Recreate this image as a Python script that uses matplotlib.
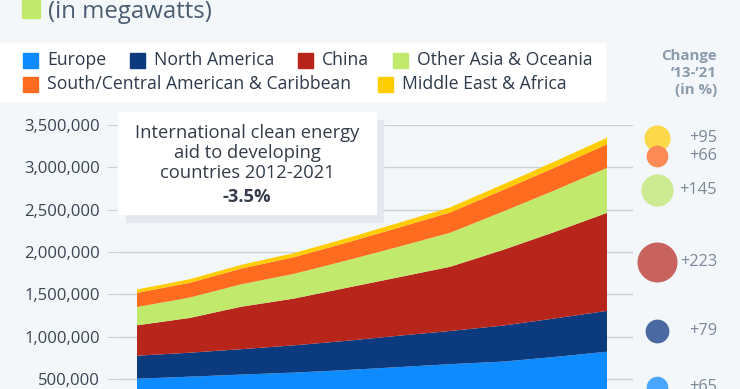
import numpy as np
import matplotlib.pyplot as plt
from matplotlib.patches import Rectangle
from matplotlib.ticker import FuncFormatter

plt.rcParams['font.family'] = ['Open Sans', 'DejaVu Sans']

# installed renewable capacity, MW
years = list(range(2013, 2023))
europe = [503000, 527000, 552000, 575000, 605000, 640000, 675000, 705000, 760000, 822000]
north_america = [272000, 283000, 300000, 322000, 345000, 370000, 392000, 425000, 455000, 482000]
china = [359000, 410000, 502000, 552000, 625000, 690000, 759000, 893000, 1022000, 1158000]
other_asia = [216000, 240000, 265000, 292000, 322000, 360000, 402000, 452000, 492000, 531000]
south_america = [167000, 175000, 185000, 197000, 210000, 226000, 240000, 255000, 268000, 278000]
mea = [40000, 42000, 45000, 48000, 52000, 56000, 60000, 66000, 72000, 78000]

labels = ['Europe', 'North America', 'China', 'Other Asia & Oceania',
          'South/Central American & Caribbean', 'Middle East & Africa']
change_pct = [65, 79, 223, 145, 66, 95]
yticks = [500000, 1000000, 1500000, 2000000, 2500000, 3000000, 3500000]

colors = ['#0e8cff', '#0b3a7e', '#b8261b', '#c1e96c', '#ff6b1f', '#ffcd00']
bubble_colors = ['#4aa6ff', '#4a69a2', '#c8625c', '#cdeb93', '#fc8b56', '#fdd94a']

W, H = 740, 389
BG = '#f4f7fa'
fig = plt.figure(figsize=(W / 100, H / 100), dpi=100, facecolor=BG)


def fx(px):
    return px / W


def fy(py):
    return 1 - py / H


# title remnant
fig.patches.append(Rectangle((fx(22), fy(18)), fx(18), 18 / H, transform=fig.transFigure,
                             color='#c1e96c', zorder=0))
fig.text(fx(48), fy(12), '(in megawatts)', fontsize=17.3, color='#4b5b70', va='center', ha='left')

# legend band
fig.patches.append(Rectangle((0, fy(101)), fx(605), 58 / H, transform=fig.transFigure,
                             color='white', zorder=0))
leg_pos = [(23, 60), (130, 60), (298, 60), (393, 60), (23, 84), (378, 84)]
for (lx, ly), lab, c in zip(leg_pos, labels, colors):
    fig.patches.append(Rectangle((fx(lx), fy(ly + 8)), fx(15), 15 / H, transform=fig.transFigure,
                                 color=c, zorder=1))
    fig.text(fx(lx + 24), fy(ly), lab, fontsize=12.7, color='#2e3a4a', va='center', ha='left')

fig.text(fx(717), fy(73), 'Change\n\u201913-\u201921\n(in %)', fontsize=10.8, fontweight='bold',
         color='#8c9bab', ha='right', va='center', linespacing=1.3)

# main axes; bottom is cropped off like the reference
y0_px, ytop_px = 421.3, 125
ax = fig.add_axes([fx(118), fy(y0_px), fx(633 - 118), (y0_px - ytop_px) / H])
ax.set_facecolor(BG)
ax.stackplot(years, europe, north_america, china, other_asia, south_america, mea,
             colors=colors, linewidth=0, zorder=2)
ax.set_xlim(2013 - 19 / 52.2, 2022 + 26 / 52.2)
ax.set_ylim(0, 3500000)
ax.set_yticks(yticks)
ax.yaxis.set_major_formatter(FuncFormatter(lambda v, p: f'{v:,.0f}'))
ax.grid(axis='y', color='#cbd3da', linewidth=1, zorder=1)
ax.set_axisbelow(True)
ax.tick_params(axis='y', length=8, color='#cbd3da', labelsize=12, labelcolor='#3a4552', pad=5)
ax.tick_params(axis='x', bottom=False, labelbottom=False)
for s in ax.spines.values():
    s.set_visible(False)

# bubbles at the middle of each layer in the last year
series = [europe, north_america, china, other_asia, south_america, mea]
last = np.array([s[-1] for s in series])
tops = np.cumsum(last)
mids = tops - last / 2
mids[-1] += 35000
bx = 2022 + 50 / 52.2
for i in reversed(range(len(series))):
    r_px = 20 * np.sqrt(change_pct[i] / 223)
    ax.scatter([bx], [mids[i]], s=(2 * r_px * 0.72) ** 2, color=bubble_colors[i],
               linewidths=0, clip_on=False, zorder=5)
    ax.annotate(f'+{change_pct[i]}', (bx, mids[i]), xytext=(60, 0), textcoords='offset pixels',
                fontsize=11.8, color='#7b8897', ha='right', va='center', annotation_clip=False)

# annotation box
fig.patches.append(Rectangle((fx(126), fy(222)), fx(257), 102 / H, transform=fig.transFigure,
                             color='#e2e8ee', zorder=3))
fig.patches.append(Rectangle((fx(118), fy(214)), fx(258), 102 / H, transform=fig.transFigure,
                             color='white', zorder=3))
fig.text(fx(247), fy(153), 'International clean energy\naid to developing\ncountries 2012-2021',
         fontsize=13.2, color='#333c48', ha='center', va='center', linespacing=1.15, zorder=4)
fig.text(fx(247), fy(197), '-3.5%', fontsize=13.2, fontweight='bold', color='#333c48',
         ha='center', va='center', zorder=4)

fig.savefig('out.png', dpi=100, facecolor=BG)
